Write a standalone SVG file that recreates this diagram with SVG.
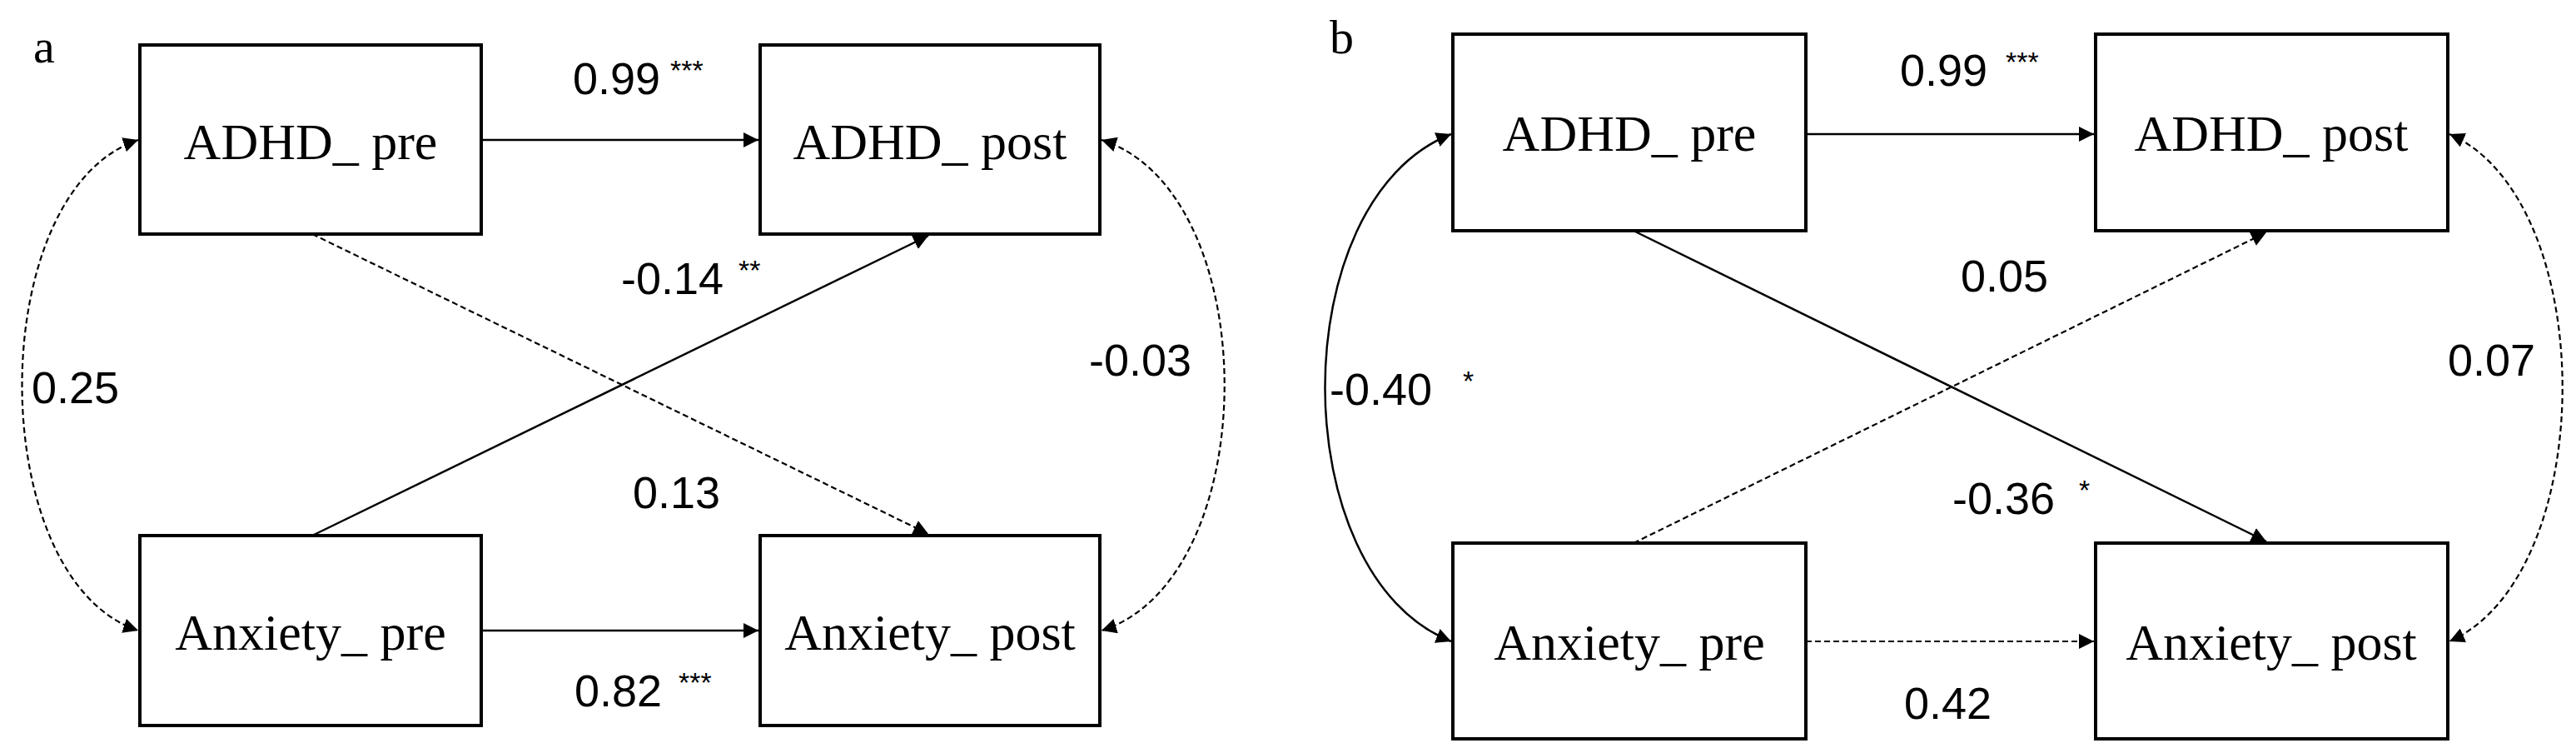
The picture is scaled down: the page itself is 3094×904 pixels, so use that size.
<svg xmlns="http://www.w3.org/2000/svg" width="3094" height="904" viewBox="0 0 3094 904">
<defs>
<marker id="ah" viewBox="0 0 10 10" refX="10" refY="5" markerWidth="9" markerHeight="9" markerUnits="userSpaceOnUse" orient="auto-start-reverse"><path d="M0,0 L10,5 L0,10 z" fill="#000"/></marker>
<marker id="ahb" viewBox="0 0 10 10" refX="10" refY="5" markerWidth="18" markerHeight="18" markerUnits="userSpaceOnUse" orient="auto-start-reverse"><path d="M0,0 L10,5 L0,10 z" fill="#000"/></marker>
</defs>
<style>
.box{fill:#fff;stroke:#000;stroke-width:4}
.nt{font-family:"Liberation Serif","Times New Roman",serif;font-size:62px;text-anchor:middle}
.pl{font-family:"Liberation Serif","Times New Roman",serif;font-size:58px}
.num{font-family:"Liberation Sans",Arial,sans-serif;font-size:54px}
.sup{font-family:"Liberation Sans",Arial,sans-serif;font-size:34px}
.s{fill:none;stroke:#000;stroke-width:2.5}
.d{fill:none;stroke:#000;stroke-width:2.2;stroke-dasharray:7 4}
</style>
<rect width="3094" height="904" fill="#fff"/>
<text class="pl" x="40" y="75">a</text>
<text class="pl" x="1597" y="64">b</text>
<g id="connectors">
<line class="s" x1="578" y1="168" x2="911" y2="168" marker-end="url(#ahb)"/>
<line class="s" x1="578" y1="757" x2="911" y2="757" marker-end="url(#ahb)"/>
<line class="s" x1="375" y1="643" x2="1115" y2="283" marker-end="url(#ahb)"/>
<line class="d" x1="375" y1="281" x2="1115" y2="641" marker-end="url(#ahb)"/>
<path class="d" d="M166,168 C-20,230 -20,695 166,757" marker-start="url(#ahb)" marker-end="url(#ahb)"/>
<path class="d" d="M1323,168 C1520,230 1520,695 1323,757" marker-start="url(#ahb)" marker-end="url(#ahb)"/>
<line class="s" x1="2169" y1="161" x2="2515" y2="161" marker-end="url(#ahb)"/>
<line class="d" x1="2169" y1="770" x2="2515" y2="770" marker-end="url(#ahb)"/>
<line class="s" x1="1962" y1="277" x2="2722" y2="650" marker-end="url(#ahb)"/>
<line class="d" x1="1962" y1="652" x2="2722" y2="279" marker-end="url(#ahb)"/>
<path class="s" d="M1743,161 C1541,240 1541,690 1743,770" marker-start="url(#ahb)" marker-end="url(#ahb)"/>
<path class="d" d="M2942,161 C3123,240 3123,690 2942,770" marker-start="url(#ahb)" marker-end="url(#ahb)"/>
</g>
<g id="a_adhd_pre"><rect class="box" x="168" y="54" width="410" height="227"/><text class="nt" x="373" y="191">ADHD_ pre</text></g>
<g id="a_adhd_post"><rect class="box" x="913" y="54" width="408" height="227"/><text class="nt" x="1117" y="191">ADHD_ post</text></g>
<g id="a_anx_pre"><rect class="box" x="168" y="643" width="410" height="228"/><text class="nt" x="373" y="780">Anxiety_ pre</text></g>
<g id="a_anx_post"><rect class="box" x="913" y="643" width="408" height="228"/><text class="nt" x="1117" y="780">Anxiety_ post</text></g>
<g id="b_adhd_pre"><rect class="box" x="1745" y="41" width="424" height="236"/><text class="nt" x="1957" y="181">ADHD_ pre</text></g>
<g id="b_adhd_post"><rect class="box" x="2517" y="41" width="423" height="236"/><text class="nt" x="2728" y="181">ADHD_ post</text></g>
<g id="b_anx_pre"><rect class="box" x="1745" y="652" width="424" height="235"/><text class="nt" x="1957" y="792">Anxiety_ pre</text></g>
<g id="b_anx_post"><rect class="box" x="2517" y="652" width="423" height="235"/><text class="nt" x="2728" y="792">Anxiety_ post</text></g>
<g id="labels">
<text class="num" x="688" y="113">0.99</text><text class="sup" x="805" y="96">***</text>
<text class="num" x="746" y="353">-0.14</text><text class="sup" x="887" y="336">**</text>
<text class="num" x="38" y="484">0.25</text>
<text class="num" x="1308" y="451">-0.03</text>
<text class="num" x="760" y="610">0.13</text>
<text class="num" x="690" y="848">0.82</text><text class="sup" x="815" y="831">***</text>
<text class="num" x="2282" y="103">0.99</text><text class="sup" x="2409" y="86">***</text>
<text class="num" x="2355" y="350">0.05</text>
<text class="num" x="2940" y="451">0.07</text>
<text class="num" x="1597" y="486">-0.40</text><text class="sup" x="1757" y="469">*</text>
<text class="num" x="2345" y="617">-0.36</text><text class="sup" x="2497" y="600">*</text>
<text class="num" x="2287" y="863">0.42</text>
</g>
</svg>
